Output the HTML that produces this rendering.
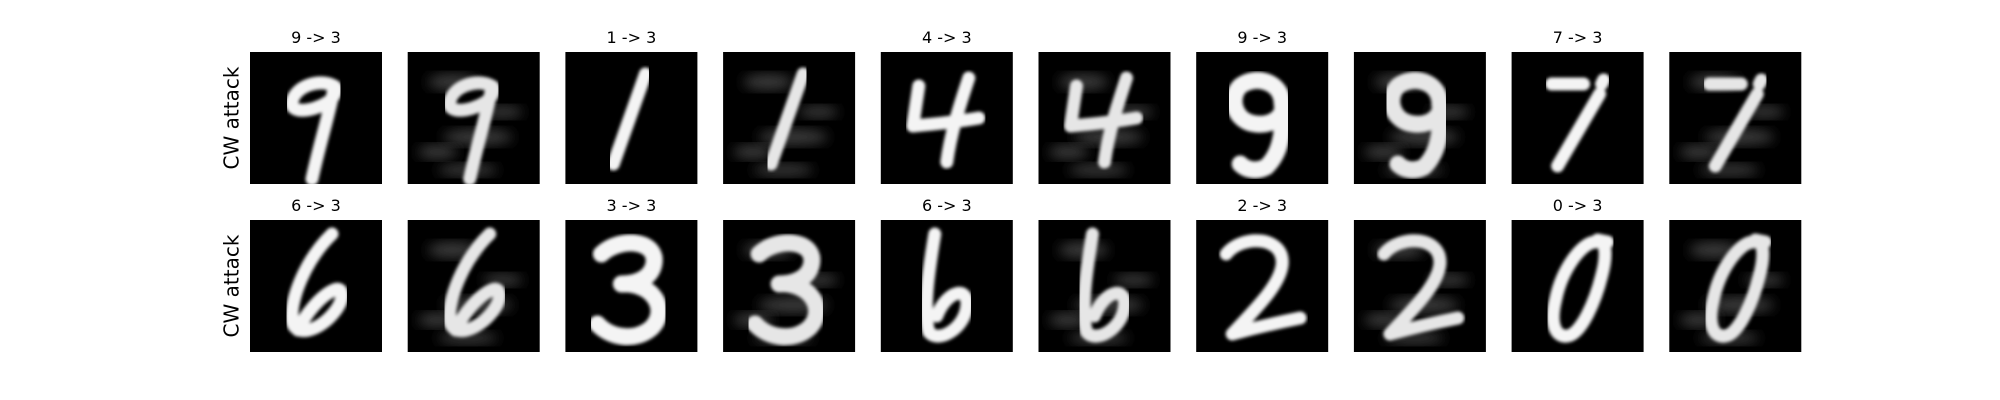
<!DOCTYPE html>
<html><head><meta charset="utf-8"><style>
body{margin:0;background:#fff;width:2000px;height:400px;overflow:hidden}
svg{display:block}
text{font-family:"DejaVu Sans","Liberation Sans",sans-serif;fill:#000}
</style></head><body>
<svg id="fig" width="2000" height="400" viewBox="0 0 2000 400" xmlns="http://www.w3.org/2000/svg">
<defs>
<filter id="soft" x="-10%" y="-10%" width="120%" height="120%"><feGaussianBlur stdDeviation="1.6"/></filter>
<filter id="noise" x="-20%" y="-20%" width="140%" height="140%"><feGaussianBlur stdDeviation="6"/></filter>
</defs>
</svg>
<script>
const trueLabels=[9,1,4,9,7,6,3,6,2,0];
const targetLabels=[3,3,3,3,3,3,3,3,3,3];
const digitPaths={
"9a":"M84,34 C70,26 45,34 42,50 C40,62 62,60 78,50 C86,44 88,36 84,34 M84,36 C80,60 70,90 62,127",
"1":"M80,22 L48,112",
"4":"M38,34 L32,74 C55,72 75,70 98,66 M88,26 C80,50 70,80 66,110",
"9b":"M86,52 C86,30 60,22 44,34 C32,46 38,70 60,72 C80,74 90,60 86,50 C88,75 86,100 70,115 C60,120 50,118 44,112",
"7":"M40,32 L72,32 M92,28 L90,32 M88,42 L46,114",
"6":"M82,14 C55,40 40,80 42,100 C44,118 70,112 86,90 C96,76 92,66 84,70 C70,76 55,95 48,110",
"3":"M36,34 C55,16 95,20 88,46 C84,60 68,64 56,64 C88,62 104,90 86,108 C70,122 45,118 32,104",
"b":"M54,14 C48,50 42,90 48,112 C58,124 84,108 86,86 C88,66 66,70 56,96",
"2":"M30,34 C46,14 88,16 86,44 C84,66 56,92 36,114 C58,108 84,102 104,98",
"0":"M84,22 C70,22 50,50 44,80 C38,104 44,118 56,116 C70,114 84,80 90,56 C96,34 94,20 86,20 L96,22"
};
const digitKeys=["9a","1","4","9b","7","6","3","b","2","0"];
const titleFor=i=>trueLabels[i]+" -> "+targetLabels[i];
const svg=document.getElementById('fig');
const NS="http://www.w3.org/2000/svg";
function mk(t,a){const e=document.createElementNS(NS,t);for(const k in a)e.setAttribute(k,a[k]);return e;}
const x0=250,dx=157.7,sz=132,rowY=[52,220];
for(let r=0;r<2;r++){
  const lab=mk('text',{x:233,y:rowY[r]+66,'font-size':20,'text-anchor':'middle',transform:`rotate(-90 233 ${rowY[r]+66})`,'dominant-baseline':'middle'});
  lab.textContent="CW attack";
  
  
  svg.appendChild(lab);
  for(let k=0;k<5;k++){
    const idx=r*5+k;
    for(let a=0;a<2;a++){
      const c=k*2+a;
      const x=x0+c*dx, y=rowY[r];
      const g=mk('g',{transform:`translate(${x},${y})`});
      
      
      g.appendChild(mk('rect',{x:0,y:0,width:sz,height:sz,fill:'#000'}));
      const cp='cp'+r+'_'+c;
      const clip=mk('clipPath',{id:cp});clip.appendChild(mk('rect',{x:0,y:0,width:sz,height:sz}));g.appendChild(clip);
      const inner=mk('g',{'clip-path':`url(#${cp})`});
      if(a===1){
        [[45,30,25,8],[70,85,35,8],[30,100,20,7],[95,60,20,6],[60,118,30,6]].forEach(b=>{
          inner.appendChild(mk('ellipse',{cx:b[0],cy:b[1],rx:b[2],ry:b[3],fill:'#3a3a3a',filter:'url(#noise)'}));
        });
      }
      inner.appendChild(mk('path',{d:digitPaths[digitKeys[idx]],fill:'none',stroke:a?'#e6e6e6':'#f4f4f4','stroke-width':digitKeys[idx]==='9b'||digitKeys[idx]==='3'?17:13,'stroke-linecap':'round','stroke-linejoin':'round',filter:'url(#soft)'}));
      g.appendChild(inner);
      svg.appendChild(g);
      if(a===0){
        const t=mk('text',{x:x+sz/2,y:y-9,'font-size':16,'text-anchor':'middle'});
        t.textContent=titleFor(idx);
        
        
        svg.appendChild(t);
      }
    }
  }
}
</script>
</body></html>
